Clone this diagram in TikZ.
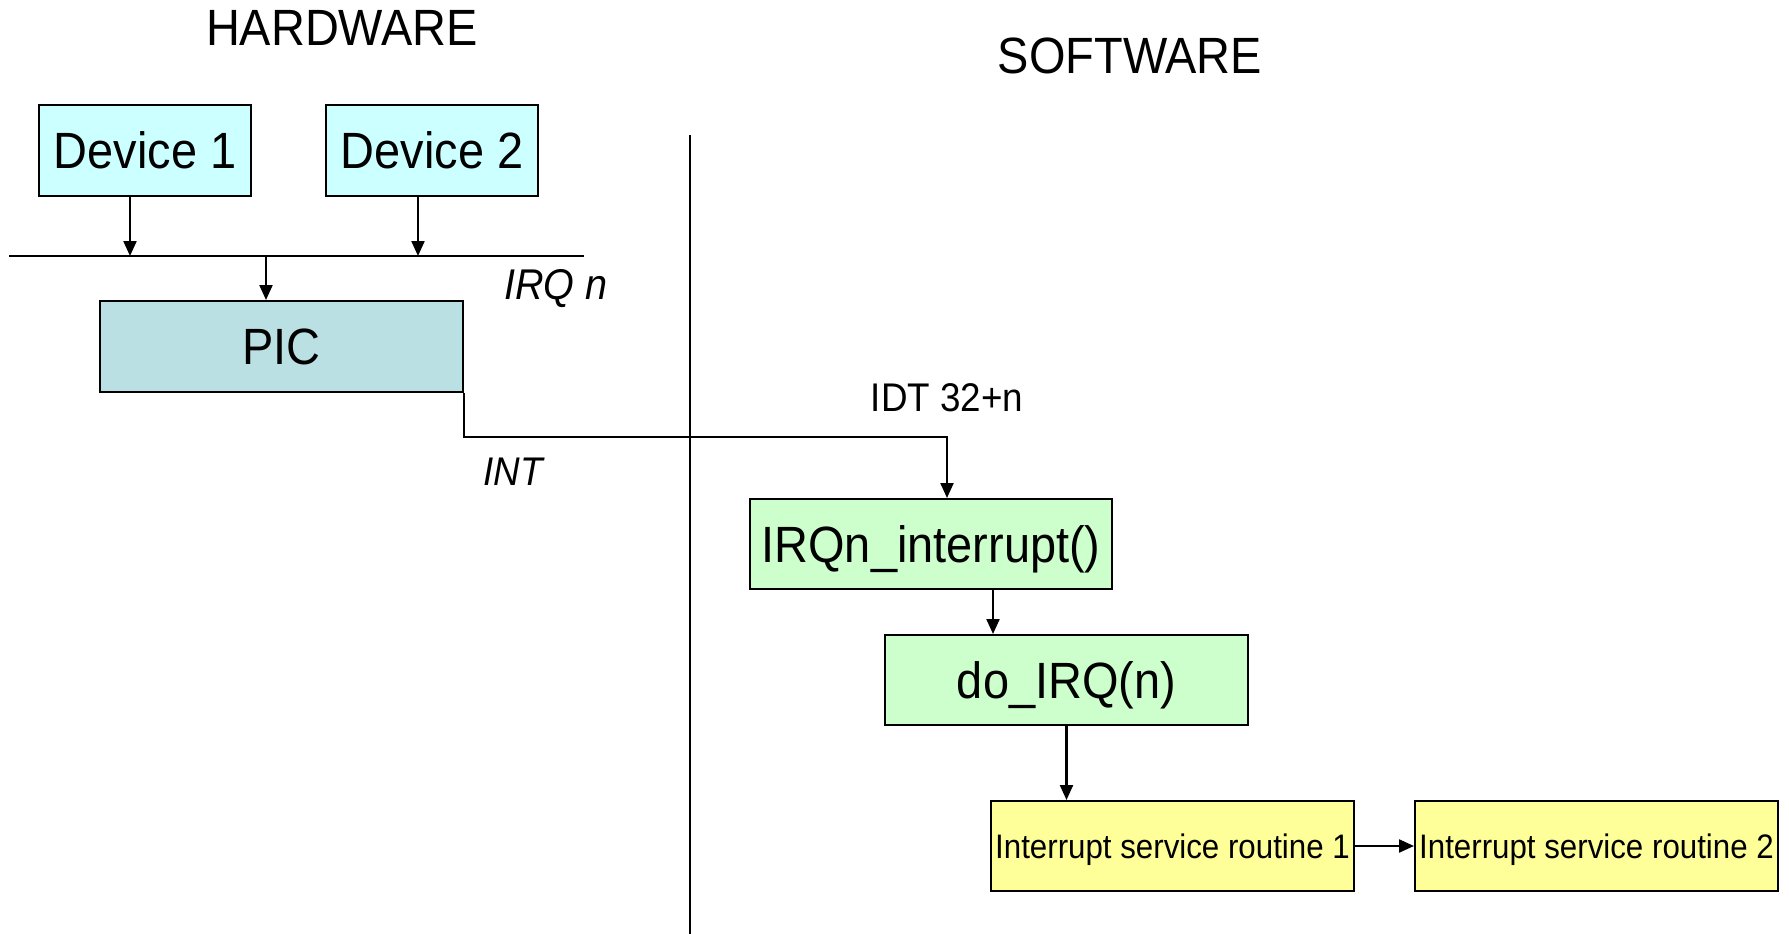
\documentclass[tikz,border=0pt]{standalone}
\usepackage{fontspec}
\setmainfont{Liberation Sans}[FakeStretch=0.92]
\usetikzlibrary{arrows.meta}
\definecolor{devcol}{HTML}{CCFFFF}
\definecolor{piccol}{HTML}{BBE0E3}
\definecolor{swcol}{HTML}{CCFFCC}
\definecolor{isrcol}{HTML}{FFFF99}
\tikzset{
  box/.style={draw=black, line width=2pt, inner sep=0pt, minimum height=91pt},
  big/.style={font=\fontsize{51pt}{60pt}\selectfont, text height=36.5pt, text depth=0pt},
  small/.style={font=\fontsize{34pt}{40pt}\selectfont, text height=24.3pt, text depth=0pt},
  lab/.style={font=\fontsize{40pt}{48pt}\selectfont, inner sep=0pt, text height=28.6pt, text depth=0pt},
  labit/.style={font=\fontsize{43pt}{50pt}\selectfont\itshape, inner sep=0pt, text height=30.8pt, text depth=0pt},
  ln/.style={line width=2.2pt},
  arr/.style={line width=2.2pt, -{Triangle[length=15pt,width=13pt]}}
}
\begin{document}
\begin{tikzpicture}[x=1pt,y=-1pt]
\useasboundingbox (0,0) rectangle (1789,934);
% headers
\node[big, inner sep=0pt] (hw) at (342,27) {HARDWARE};
\node[big, inner sep=0pt] (sw) at (1130,55) {SOFTWARE};
% divider
\coordinate (divT) at (690,135);
\coordinate (divB) at (690,934);
\draw[ln] (divT) -- (divB);
% hardware
\node[box, big, fill=devcol, minimum width=212pt] (dev1) at (145,150.5) {Device 1};
\node[box, big, fill=devcol, minimum width=212pt] (dev2) at (432,150.5) {Device 2};
\coordinate (busL) at (9,256);
\coordinate (busR) at (584,256);
\draw[ln] (busL) -- (busR);
\node[box, big, fill=piccol, minimum width=363pt] (pic) at (281.5,346.5) {PIC};
\draw[arr] ([xshift=-15pt]dev1.south) -- ([xshift=-15pt]dev1.south |- busL);
\draw[arr] ([xshift=-14pt]dev2.south) -- ([xshift=-14pt]dev2.south |- busL);
\coordinate (busPIC) at (266,256);
\draw[arr] (busPIC) -- (busPIC |- pic.north);
\node[labit] (irqn) at (556,284) {IRQ n};
\node[labit, font=\fontsize{40pt}{48pt}\selectfont\itshape, text height=28.6pt] (int) at (513,471) {INT};
\node[lab] (idt) at (947,397) {IDT 32+n};
% software
\node[box, big, fill=swcol, minimum width=362pt, minimum height=90pt] (irqfn) at (931,544) {IRQn\_interrupt()};
\node[box, big, fill=swcol, minimum width=363pt, minimum height=90pt] (doirq) at (1066.5,680) {do\_IRQ(n)};
\node[box, small, fill=isrcol, minimum width=363pt, minimum height=90pt] (isr1) at (1172.5,846) {Interrupt service routine 1};
\node[box, small, fill=isrcol, minimum width=363pt, minimum height=90pt] (isr2) at (1596.5,846) {Interrupt service routine 2};
\coordinate (intturn) at (947,437);
\draw[arr] (pic.south east) |- (intturn) -- (intturn |- irqfn.north);
\draw[arr] ([xshift=62pt]irqfn.south) -- ([xshift=62pt]irqfn.south |- doirq.north);
\draw[arr] (doirq.south) -- (doirq.south |- isr1.north);
\draw[arr] (isr1.east) -- (isr2.west);
\end{tikzpicture}
\end{document}
